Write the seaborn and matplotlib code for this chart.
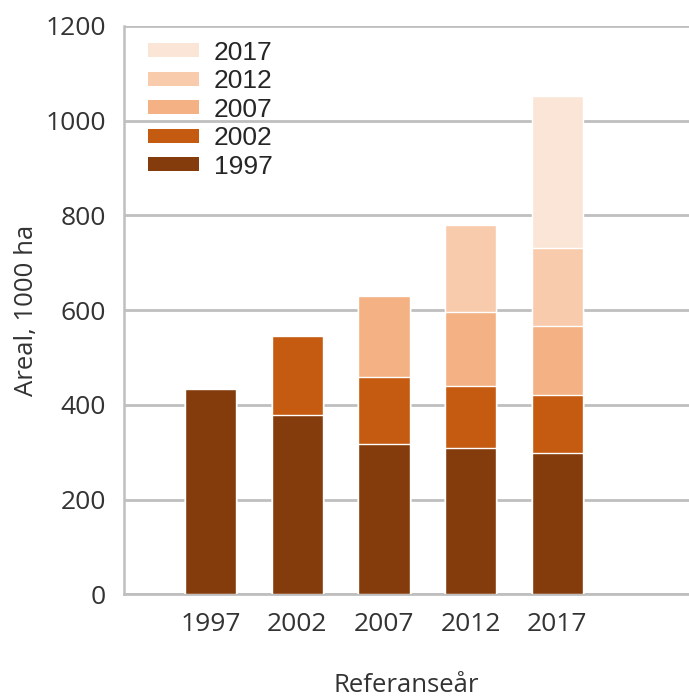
import matplotlib
matplotlib.use("Agg")
import matplotlib.pyplot as plt
import seaborn as sns
import pandas as pd
from matplotlib.patches import Patch

# reference years on the x axis
ref_years = ["1997", "2002", "2007", "2012", "2017"]

# area (1000 ha) per layer, by the year the layer was added
layer_1997 = [434, 378, 318, 308, 298]
layer_2002 = [0, 168, 141, 131, 122]
layer_2007 = [0, 0, 171, 157, 146]
layer_2012 = [0, 0, 0, 184, 165]
layer_2017 = [0, 0, 0, 0, 320]

layer_names = ["1997", "2002", "2007", "2012", "2017"]
layer_colors = ["#843C0C", "#C55A11", "#F4B183", "#F8CBAD", "#FBE5D6"]

sns.set_theme(style="white")
plt.rcParams['font.family'] = ['Open Sans', 'DejaVu Sans']

df = pd.DataFrame({
    "ref": ref_years,
    "1997": layer_1997,
    "2002": layer_2002,
    "2007": layer_2007,
    "2012": layer_2012,
    "2017": layer_2017,
})
# cumulative totals so layers can be drawn back to front
cum = df[layer_names].cumsum(axis=1)
cum["ref"] = df["ref"]

fig = plt.figure(figsize=(6.89, 7.0), dpi=100)
ax = fig.add_axes([0.18, 0.151, 0.82, 0.812])

for name, color in reversed(list(zip(layer_names, layer_colors))):
    sns.barplot(data=cum, x="ref", y=name, color=color, width=0.59,
                edgecolor="#FFFFFF", linewidth=1.0, errorbar=None,
                saturation=1, ax=ax, zorder=3)

ax.set_xlim(-1, 5.52)
ax.set_ylim(0, 1200)
ax.set_yticks(range(0, 1201, 200))
ax.yaxis.grid(True, color="#BFBFBF", linewidth=2.0, zorder=0)
ax.set_axisbelow(True)

for side in ["top", "right"]:
    ax.spines[side].set_visible(False)
ax.spines["left"].set_color("#BFBFBF")
ax.spines["left"].set_linewidth(1.8)
ax.spines["bottom"].set_color("#BFBFBF")
ax.spines["bottom"].set_linewidth(2.0)

ax.tick_params(axis="both", length=0, labelsize=19, colors="#333333")
ax.tick_params(axis="x", pad=13)
ax.tick_params(axis="y", pad=13)
ax.set_xlabel("Referanseår", fontsize=18.5, color="#333333", labelpad=26)
ax.set_ylabel("Areal, 1000 ha", fontsize=18.5, color="#333333")
ax.yaxis.set_label_coords(-0.151, 0.5)

handles = [Patch(facecolor=c, edgecolor="none") for c in layer_colors]
leg = ax.legend(handles[::-1], layer_names[::-1], loc="upper left",
                bbox_to_anchor=(0.042, 0.974), frameon=False, borderpad=0,
                borderaxespad=0,
                handlelength=1.95, handleheight=0.43, handletextpad=0.55,
                labelspacing=0.17,
                prop={"family": "Liberation Sans", "size": 19})

fig.savefig("out.png", dpi=100)
